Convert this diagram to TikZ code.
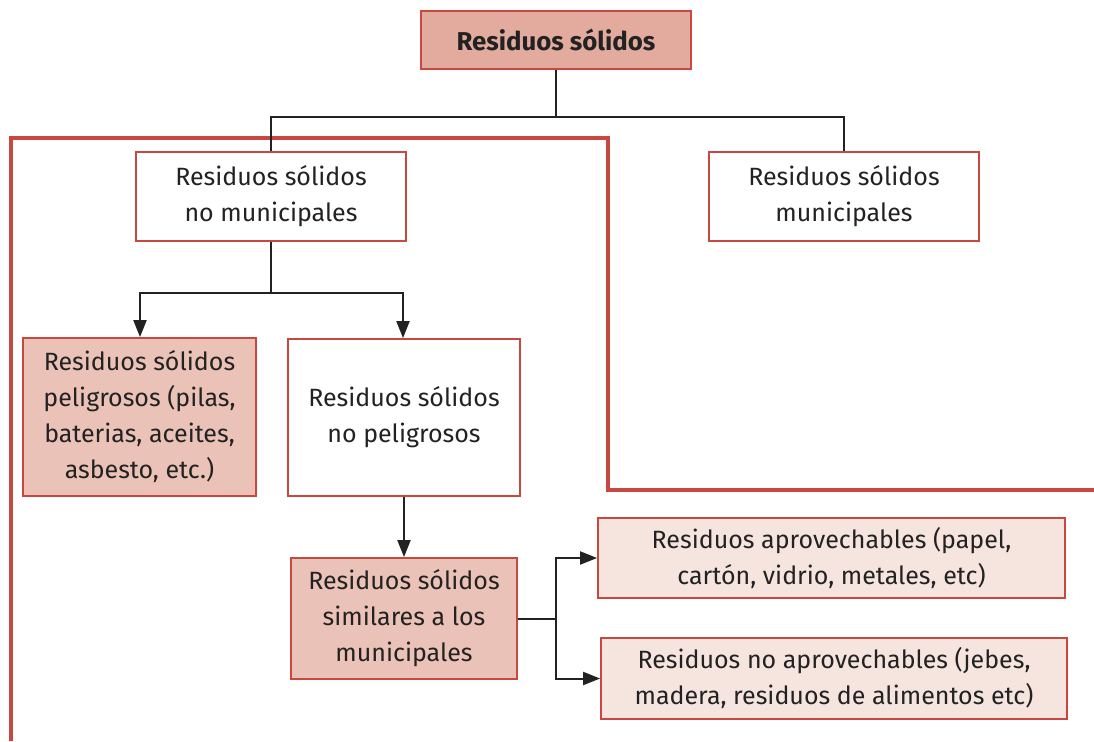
\documentclass[tikz,border=0pt]{standalone}
\usepackage{fontspec}
\setmainfont{Fira Sans}
\usetikzlibrary{arrows.meta}
\definecolor{bred}{HTML}{C8473F}
\definecolor{ftop}{HTML}{E2AB9D}
\definecolor{fmid}{HTML}{EBC2B7}
\definecolor{flight}{HTML}{F6E4DF}
\definecolor{lnk}{HTML}{222222}
\tikzset{
  box/.style={draw=bred, line width=1.8pt, align=center, inner sep=0pt, font=\fontsize{25}{36}\selectfont, text=lnk},
  link/.style={draw=lnk, line width=2pt},
  arr/.style={link, -{Triangle[length=17pt,width=13pt]}},
}
\begin{document}
\begin{tikzpicture}[x=1pt,y=-1pt]
\useasboundingbox (0,0) rectangle (1094,741);
% red outline
\draw[bred, line width=4pt] (11,741) -- (11,138) -- (608,138) -- (608,490) -- (1094,490);
% boxes
\node[box, fill=ftop, minimum width=270pt, minimum height=58pt, font=\fontsize{25.8}{36}\selectfont\bfseries] (top) at (556,40) {Residuos sólidos};
\node[box, fill=white, minimum width=270pt, minimum height=89pt] (nomun) at (271,196.5) {Residuos sólidos\\no municipales};
\node[box, fill=white, minimum width=270pt, minimum height=89pt] (mun) at (844,196.5) {Residuos sólidos\\municipales};
\node[box, fill=fmid, minimum width=233pt, minimum height=158pt] (pel) at (139.5,417) {Residuos sólidos\\peligrosos (pilas,\\baterias, aceites,\\asbesto, etc.)};
\node[box, fill=white, minimum width=232pt, minimum height=157pt] (nopel) at (404,417.5) {Residuos sólidos\\no peligrosos};
\node[box, fill=fmid, minimum width=226pt, minimum height=121pt] (sim) at (404,618.5) {Residuos sólidos\\similares a los\\municipales};
\node[box, fill=flight, minimum width=467pt, minimum height=80pt] (apr) at (831.5,558) {Residuos aprovechables (papel,\\cartón, vidrio, metales, etc)};
\node[box, fill=flight, minimum width=466pt, minimum height=81pt] (noapr) at (834,678.5) {Residuos no aprovechables (jebes,\\madera, residuos de alimentos etc)};
% connectors
\coordinate (j1) at (556,117);
\draw[link] (top.south) -- (j1);
\draw[link] (nomun.north) |- (j1) -| (mun.north);
\coordinate (j2) at (271,293);
\draw[link] (nomun.south) -- (j2);
\draw[arr] (j2) -| (pel.north -| 140,0);
\draw[arr] (j2) -| (nopel.north -| 403,0);
\draw[arr] (nopel.south) -- (sim.north);
\coordinate (j3) at (556,618.5);
\draw[link] (sim.east) -- (j3);
\draw[arr] (j3) |- (apr.west);
\draw[arr] (j3) |- (noapr.west);
\end{tikzpicture}
\end{document}
